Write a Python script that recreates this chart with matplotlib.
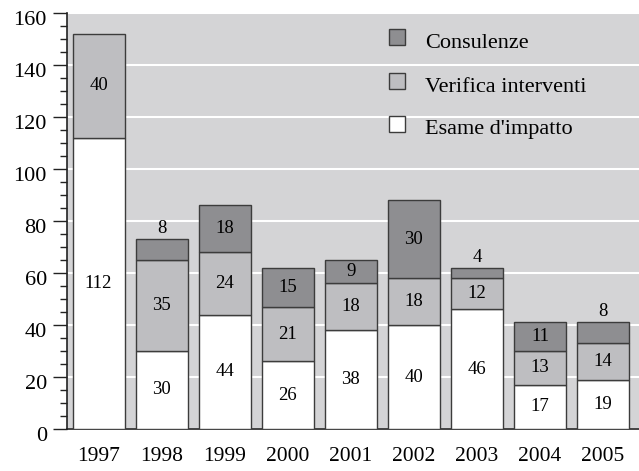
import matplotlib
matplotlib.use("Agg")
import matplotlib.pyplot as plt
import matplotlib.transforms as mtransforms
from matplotlib.patches import Rectangle
import numpy as np

years = ["1997", "1998", "1999", "2000", "2001", "2002", "2003", "2004", "2005"]
esame = [112, 30, 44, 26, 38, 40, 46, 17, 19]
verifica = [40, 35, 24, 21, 18, 18, 12, 13, 14]
consulenze = [0, 8, 18, 15, 9, 30, 4, 11, 8]
series_names = ["Consulenze", "Verifica interventi", "Esame d'impatto"]

plt.rcParams['font.family'] = ['Liberation Serif', 'DejaVu Serif']

W, H = 639, 471
fig = plt.figure(figsize=(W / 100, H / 100), dpi=100)
ax = fig.add_axes([67 / W, 1 - 429 / H, (639 - 67) / W, (429 - 13) / H])

bg = '#d4d4d6'
c_white = '#ffffff'
c_light = '#bebec1'
c_dark = '#8e8e91'
edge = '#3c3c3c'
ax.set_facecolor(bg)

x = np.arange(len(years))
w = 0.825
esame_a = np.array(esame)
ver_a = np.array(verifica)
con_a = np.array(consulenze)

ax.bar(x, esame_a, w, color=c_white, edgecolor=edge, linewidth=1.0, zorder=3)
ax.bar(x, ver_a, w, bottom=esame_a, color=c_light, edgecolor=edge, linewidth=1.0, zorder=3)
mask = con_a > 0
ax.bar(x[mask], con_a[mask], w, bottom=(esame_a + ver_a)[mask], color=c_dark,
       edgecolor=edge, linewidth=1.0, zorder=3)

fs_lab = 13.5
for i in range(len(years)):
    ax.text(x[i], esame_a[i] / 2, str(esame_a[i]), ha='center', va='center', fontsize=fs_lab, zorder=4)
    ax.text(x[i], esame_a[i] + ver_a[i] / 2, str(ver_a[i]), ha='center', va='center', fontsize=fs_lab, zorder=4)
    if con_a[i] > 0:
        top = esame_a[i] + ver_a[i] + con_a[i]
        if con_a[i] >= 9:
            ax.text(x[i], top - con_a[i] / 2, str(con_a[i]), ha='center', va='center', fontsize=fs_lab, zorder=4)
        else:
            ax.text(x[i], top + 0.8, str(con_a[i]), ha='center', va='bottom', fontsize=fs_lab, zorder=4)

ax.set_xlim(-0.5, 8.57)
ax.set_ylim(0, 160)
ax.set_yticks(np.arange(0, 161, 20))
ax.set_yticks(np.arange(0, 161, 5), minor=True)
ax.set_xticks(x)
ax.set_xticklabels(years)
ax.yaxis.grid(True, which='major', color='white', linewidth=1.5, zorder=0)
ax.set_axisbelow(True)

for s in ['top', 'right']:
    ax.spines[s].set_visible(False)
ax.spines['left'].set_color('#222222')
ax.spines['bottom'].set_color('#222222')
ax.spines['left'].set_linewidth(1.2)
ax.spines['bottom'].set_linewidth(1.2)
ax.tick_params(axis='y', which='major', length=10, width=1.0, labelsize=16, pad=4.5, color='#222222')
ax.tick_params(axis='y', which='minor', length=5, width=1.0, color='#222222')
ax.tick_params(axis='x', length=0, labelsize=15.5, pad=13)

offset = mtransforms.ScaledTranslation(0, -0.05, fig.dpi_scale_trans)
for lab in ax.get_yticklabels():
    lab.set_transform(lab.get_transform() + offset)

# legend drawn manually
leg_colors = [c_dark, c_light, c_white]
leg_sq_y = [37, 81, 124]
for name, col, yc in zip(series_names, leg_colors, leg_sq_y):
    sq = 16
    fig.add_artist(Rectangle(((389) / W, 1 - (yc + sq / 2) / H), sq / W, sq / H,
                             transform=fig.transFigure, facecolor=col, edgecolor=edge, linewidth=1.0))
    fig.text(425 / W, 1 - (yc + 6) / H, name, ha='left', va='center', fontsize=16)

fig.savefig("out.png", dpi=100, facecolor='white')
